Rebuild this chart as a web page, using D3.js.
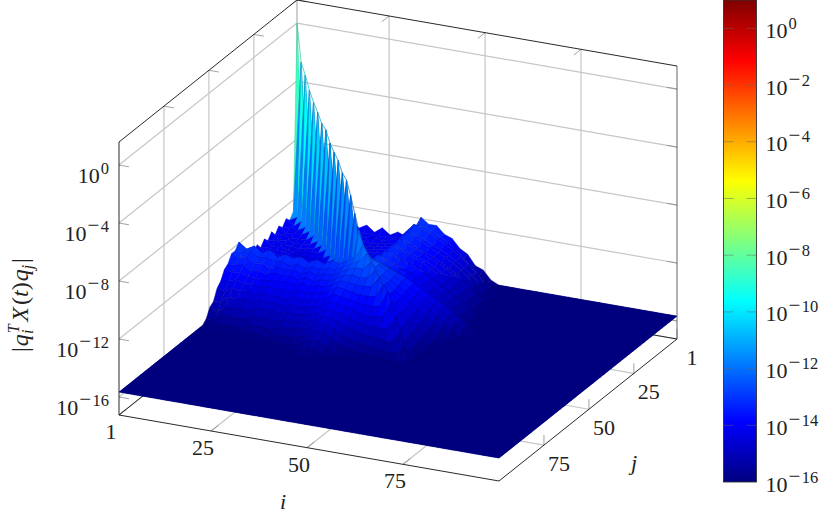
<!DOCTYPE html>
<html>

<head>
    <meta charset="utf-8">
    <script src="https://cdnjs.cloudflare.com/ajax/libs/d3/7.8.5/d3.min.js"></script>
    <style>
        body {
            margin: 0;
            background: #fff;
        }

        text {
            font-family: "Liberation Serif", serif;
            fill: #222;
        }
    </style>
</head>

<body>
    <svg width="830" height="518"></svg>
    <script>
        var iTicks = [1, 25, 50, 75];
        var jTicks = [1, 25, 50, 75];
        var zTicks = [0, -4, -8, -12, -16];
        var barTicks = [0, -2, -4, -6, -8, -10, -12, -14, -16];
        var gridSize = 50;
        var floorLog = -15.66;

        // log10 of the diagonal entries
        var diagonal = [0, -2.42, -3.0, -3.75, -4.28, -4.69, -5.17, -5.32, -5.94, -6.28, -6.56, -7.11, -7.32, -8.07,
            -9.04, -9.9, -10.6, -10.9, -11.2, -11.5, -11.7, -11.9, -12.1, -12.4, -13.2, -14.0, -14.7, -15.3];

        // upper triangle, row a holds columns a+1, a+2, ... anything missing is on the floor
        var upperRows = [
            [-12.8, -13.2, -12.9, -13.3, -13.0, -13.4, -13.0, -13.4, -13.1, -13.5, -13.1, -13.5, -13.2, -13.4, -12.9, -11.9, -12.3, -12.3, -12.8, -13.0, -13.6, -13.9, -14.6, -14.8, -15.4],
            [-12.9, -13.3, -13.2, -13.4, -13.3, -13.5, -13.3, -13.5, -13.4, -13.5, -13.4, -13.4, -13.3, -12.8, -12.3, -12.3, -12.5, -12.8, -13.1, -13.5, -14.0, -14.5, -15.0, -15.4],
            [-12.9, -13.3, -13.3, -13.5, -13.4, -13.5, -13.4, -13.5, -13.4, -13.5, -13.3, -13.2, -12.6, -12.0, -12.2, -12.4, -12.7, -13.0, -13.3, -13.7, -14.1, -14.6, -15.0, -15.4],
            [-13.0, -13.3, -13.4, -13.5, -13.5, -13.6, -13.5, -13.6, -13.5, -13.4, -13.3, -12.8, -12.4, -12.5, -12.7, -13.0, -13.2, -13.5, -13.8, -14.2, -14.6, -15.0, -15.4],
            [-13.0, -13.4, -13.5, -13.6, -13.6, -13.6, -13.6, -13.5, -13.4, -13.3, -12.7, -12.1, -12.4, -12.6, -12.9, -13.2, -13.4, -13.7, -14.1, -14.5, -15.0, -15.4],
            [-13.0, -13.4, -13.5, -13.6, -13.6, -13.6, -13.5, -13.4, -13.3, -12.9, -12.5, -12.6, -12.9, -13.1, -13.3, -13.6, -13.9, -14.2, -14.6, -15.0, -15.4],
            [-13.1, -13.4, -13.5, -13.6, -13.6, -13.5, -13.4, -13.3, -12.8, -12.2, -12.5, -12.7, -12.9, -13.2, -13.4, -13.7, -14.0, -14.3, -14.7, -15.1, -15.4],
            [-13.1, -13.4, -13.6, -13.6, -13.5, -13.4, -13.3, -12.9, -12.4, -12.7, -12.8, -13.0, -13.2, -13.5, -13.8, -14.0, -14.3, -14.7, -15.1, -15.4],
            [-13.1, -13.5, -13.6, -13.5, -13.4, -13.3, -12.8, -12.2, -12.5, -12.7, -12.9, -13.1, -13.4, -13.7, -14.0, -14.3, -14.7, -15.1, -15.4],
            [-13.2, -13.5, -13.5, -13.4, -13.3, -12.9, -12.5, -12.7, -12.9, -13.1, -13.3, -13.6, -13.9, -14.2, -14.5, -14.8, -15.2, -15.5],
            [-13.2, -13.4, -13.4, -13.3, -12.8, -12.2, -12.5, -12.6, -12.8, -13.0, -13.3, -13.6, -13.9, -14.2, -14.5, -14.8, -15.2, -15.5],
            [-13.2, -13.4, -13.3, -12.9, -12.4, -12.6, -12.8, -13.0, -13.2, -13.4, -13.7, -14.0, -14.3, -14.6, -14.9, -15.2, -15.5],
            [-13.1, -13.3, -12.7, -12.1, -12.4, -12.6, -12.8, -13.0, -13.3, -13.6, -13.9, -14.2, -14.5, -14.8, -15.2, -15.5],
            [-13.0, -12.7, -12.2, -12.4, -12.6, -12.8, -13.0, -13.2, -13.5, -13.8, -14.1, -14.4, -14.7, -15.1, -15.4],
            [-12.6, -11.9, -12.1, -12.3, -12.5, -12.7, -13.0, -13.3, -13.6, -13.9, -14.2, -14.5, -14.8, -15.1, -15.4],
            [-11.6, -11.8, -12.0, -12.2, -12.4, -12.6, -12.9, -13.2, -13.5, -13.8, -14.1, -14.4, -14.8, -15.2],
            [-11.5, -11.8, -12.1, -12.4, -12.7, -13.0, -13.3, -13.6, -13.9, -14.2, -14.5, -14.9, -15.3],
            [-11.8, -12.2, -12.5, -12.8, -13.1, -13.4, -13.7, -14.0, -14.4, -14.8, -15.2],
            [-12.1, -12.5, -12.9, -13.2, -13.5, -13.9, -14.3, -14.7, -15.1],
            [-12.4, -12.9, -13.3, -13.7, -14.1, -14.5, -14.9, -15.3],
            [-12.8, -13.3, -13.8, -14.2, -14.6, -15.0, -15.4],
            [-13.2, -13.7, -14.2, -14.7, -15.1, -15.5],
            [-13.6, -14.2, -14.7, -15.2, -15.5],
            [-14.2, -14.8, -15.3, -15.6],
            [-14.8, -15.3, -15.6],
            [-15.3, -15.6],
            [-15.6]
        ];

        var svg = d3.select("svg");

        // pieces of the oblique box projection
        var iScale = d3.scaleLinear().domain([1, 100]).range([0, 1]);
        var jScale = d3.scaleLinear().domain([1, 100]).range([0, 1]);
        var zScale = d3.scaleLinear().domain([-17.24, 1.59]).range([0, 1]);
        var gridScale = d3.scaleLinear().domain([0, gridSize - 1]).range([1, 100]);

        function project(i, j, z) {
            var u = iScale(i), v = jScale(j), w = zScale(z);
            return [297 + 380 * u - 178 * v, 273 + 66 * u + 142 * v - 273 * w];
        }

        var zMin = zScale.domain()[0], zMax = zScale.domain()[1];

        function segment(g, a, b, color, width) {
            g.append("line")
                .attr("x1", a[0]).attr("y1", a[1])
                .attr("x2", b[0]).attr("y2", b[1])
                .attr("stroke", color)
                .attr("stroke-width", width);
        }

        function value(a, b) {
            if (a === b) {
                return a < diagonal.length ? diagonal[a] : floorLog;
            }
            var lo = Math.min(a, b), hi = Math.max(a, b);
            var row = upperRows[lo];
            if (!row || hi - lo - 1 >= row.length) {
                return floorLog;
            }
            return row[hi - lo - 1];
        }

        // jet map, same one for the surface and the colorbar
        var barY = d3.scaleLinear().domain([-16, 1]).range([482, 0]);
        var jet = d3.scaleLinear()
            .domain([-16, -13.875, -9.625, -5.375, -1.125, 1])
            .range(["#00007f", "#0000ff", "#00ffff", "#ffff00", "#ff0000", "#7f0000"])
            .clamp(true);
        // the flat floor is painted with the bottom colour, so the surface shade sits a bit below its height
        var shade = d3.scaleLinear().domain([floorLog, 0]).range([-16, -2.7]);

        // walls and floor grid
        var gridG = svg.append("g");
        var grey = "#c6c6c6";
        zTicks.forEach(function(z) {
            segment(gridG, project(1, 100, z), project(1, 1, z), grey, 1.2);
            segment(gridG, project(1, 1, z), project(100, 1, z), grey, 1.2);
        });
        iTicks.forEach(function(i) {
            segment(gridG, project(i, 1, zMin), project(i, 1, zMax), grey, 1.2);
            segment(gridG, project(i, 1, zMin), project(i, 100, zMin), grey, 1.2);
        });
        jTicks.forEach(function(j) {
            segment(gridG, project(1, j, zMin), project(1, j, zMax), grey, 1.2);
            segment(gridG, project(1, j, zMin), project(100, j, zMin), grey, 1.2);
        });

        // small tick marks
        var tickColor = "#8c8c8c";
        zTicks.forEach(function(z) {
            segment(gridG, project(1, 100, z), project(3.6, 100, z), tickColor, 0.8);
            segment(gridG, project(100, 1, z), project(97.4, 1, z), tickColor, 0.8);
        });
        iTicks.forEach(function(i) {
            segment(gridG, project(i, 100, zMin), project(i, 96, zMin), tickColor, 0.8);
            segment(gridG, project(i, 1, zMax), project(i, 5, zMax), tickColor, 0.8);
        });
        jTicks.forEach(function(j) {
            segment(gridG, project(100, j, zMin), project(100, j, zMin + 0.7), tickColor, 0.8);
            segment(gridG, project(1, j, zMax), project(3.6, j, zMax), tickColor, 0.8);
        });

        // box
        var boxG = svg.append("g");
        segment(boxG, project(1, 1, zMin), project(1, 100, zMin), "#111", 0.9);
        segment(boxG, project(1, 1, zMin), project(100, 1, zMin), "#111", 0.9);
        segment(boxG, project(1, 100, zMin), project(100, 100, zMin), "#111", 0.9);
        segment(boxG, project(100, 100, zMin), project(100, 1, zMin), "#111", 0.9);
        segment(boxG, project(1, 100, zMin), project(1, 100, zMax), "#111", 0.9);
        segment(boxG, project(100, 1, zMin), project(100, 1, zMax), "#555", 0.9);
        segment(boxG, project(1, 1, zMax), project(1, 100, zMax), "#111", 0.9);
        segment(boxG, project(1, 1, zMax), project(100, 1, zMax), "#111", 0.9);

        // navy sheet under the cells, otherwise the seams between flat cells show white
        svg.append("path")
            .attr("d", "M" + [project(1, 1, floorLog), project(100, 1, floorLog), project(100, 100, floorLog), project(1, 100, floorLog)].join("L") + "Z")
            .attr("fill", jet(-16));

        // surface, back corner first so that nearer cells paint over
        var cells = [];
        d3.range(gridSize - 1).forEach(function(a) {
            d3.range(gridSize - 1).forEach(function(b) {
                cells.push([a, b]);
            });
        });

        function corner(a, b) {
            return project(gridScale(a), gridScale(b), value(a, b));
        }

        svg.append("g").selectAll("path")
            .data(cells)
            .enter().append("path")
            .attr("d", function(d) {
                var a = d[0], b = d[1];
                var p00 = corner(a, b), p10 = corner(a + 1, b), p11 = corner(a + 1, b + 1), p01 = corner(a, b + 1);
                if (a === b) {
                    // diagonal cells fold along the two high corners, the spike stays closed
                    return "M" + [p00, p01, p11].join("L") + "Z M" + [p00, p11, p10].join("L") + "Z";
                }
                return "M" + [p00, p10, p11, p01].join("L") + "Z";
            })
            .each(function(d) {
                var a = d[0], b = d[1];
                var mean = d3.mean([value(a, b), value(a + 1, b), value(a + 1, b + 1), value(a, b + 1)]);
                var c = d3.color(jet(shade(mean)));
                var flat = mean <= floorLog + 0.02;
                d3.select(this)
                    .attr("fill", c.formatHex())
                    .attr("stroke", flat ? c.formatHex() : c.darker(0.6).formatHex())
                    .attr("stroke-width", flat ? 0.5 : 0.45);
            });

        function powerLabel(g, x, y, exp, anchor) {
            var t = g.append("text")
                .attr("x", x)
                .attr("y", y)
                .attr("text-anchor", anchor)
                .attr("font-size", 22);
            t.append("tspan").text("10");
            if (exp < 0) {
                t.append("tspan")
                    .attr("dy", -9)
                    .attr("dx", 1)
                    .attr("font-size", 21)
                    .attr("letter-spacing", 1.5)
                    .text("\u2212");
                t.append("tspan")
                    .attr("font-size", 16.5)
                    .text(-exp);
            } else {
                t.append("tspan")
                    .attr("dy", -9)
                    .attr("dx", 1)
                    .attr("font-size", 16.5)
                    .text(exp);
            }
        }

        var labelG = svg.append("g");

        zTicks.forEach(function(z) {
            var p = project(1, 100, z);
            powerLabel(labelG, p[0] - 10, p[1] + 18, z, "end");
        });

        iTicks.forEach(function(i) {
            var p = project(i, 100, zMin);
            labelG.append("text")
                .attr("x", p[0] - 8)
                .attr("y", p[1] + 24)
                .attr("text-anchor", "middle")
                .attr("font-size", 22)
                .text(i);
        });

        jTicks.forEach(function(j) {
            var p = project(100, j, zMin);
            labelG.append("text")
                .attr("x", p[0] + 15)
                .attr("y", p[1] + 26)
                .attr("text-anchor", "middle")
                .attr("font-size", 22)
                .text(j);
        });

        labelG.append("text")
            .attr("x", 283)
            .attr("y", 509)
            .attr("text-anchor", "middle")
            .attr("font-size", 22)
            .attr("font-style", "italic")
            .text("i");

        labelG.append("text")
            .attr("x", 634)
            .attr("y", 470)
            .attr("text-anchor", "middle")
            .attr("font-size", 22)
            .attr("font-style", "italic")
            .text("j");

        // z axis label, rotated with sub and superscripts
        var zLabel = labelG.append("text")
            .attr("transform", "translate(28,305) rotate(-90)")
            .attr("text-anchor", "middle")
            .attr("font-size", 24);
        zLabel.append("tspan").text("|");
        zLabel.append("tspan").attr("font-style", "italic").attr("dx", 1).text("q");
        zLabel.append("tspan").attr("font-style", "italic").attr("font-size", 16).attr("dy", -9).attr("dx", 1).text("T");
        zLabel.append("tspan").attr("font-style", "italic").attr("font-size", 16).attr("dy", 14).attr("dx", -9).text("i");
        zLabel.append("tspan").attr("font-style", "italic").attr("dy", -5).attr("dx", 8).text("X");
        zLabel.append("tspan").attr("dx", 2).text("(");
        zLabel.append("tspan").attr("font-style", "italic").text("t");
        zLabel.append("tspan").text(")");
        zLabel.append("tspan").attr("font-style", "italic").attr("dx", 1).text("q");
        zLabel.append("tspan").attr("font-style", "italic").attr("font-size", 16).attr("dy", 5).text("j");
        zLabel.append("tspan").attr("dy", -5).attr("dx", 2).text("|");

        // colorbar
        var defs = svg.append("defs");
        var gradient = defs.append("linearGradient")
            .attr("id", "jetBar")
            .attr("x1", 0).attr("y1", 1)
            .attr("x2", 0).attr("y2", 0);
        jet.domain().forEach(function(v) {
            gradient.append("stop")
                .attr("offset", (v + 16) / 17)
                .attr("stop-color", jet(v));
        });

        var barG = svg.append("g").attr("transform", "translate(723.5,0)");
        barG.append("rect")
            .attr("width", 33)
            .attr("height", barY(-16))
            .attr("fill", "url(#jetBar)")
            .attr("stroke", "#333")
            .attr("stroke-width", 0.9);

        barTicks.forEach(function(v) {
            var y = barY(v);
            if (v > -16) {
                barG.append("line").attr("x1", 0).attr("x2", 10).attr("y1", y).attr("y2", y)
                    .attr("stroke", "#666").attr("stroke-width", 0.7).attr("stroke-opacity", 0.7);
                barG.append("line").attr("x1", 23).attr("x2", 33).attr("y1", y).attr("y2", y)
                    .attr("stroke", "#666").attr("stroke-width", 0.7).attr("stroke-opacity", 0.7);
            }
            powerLabel(barG, 42, y + 9.5, v, "start");
        });
    </script>
</body>

</html>
